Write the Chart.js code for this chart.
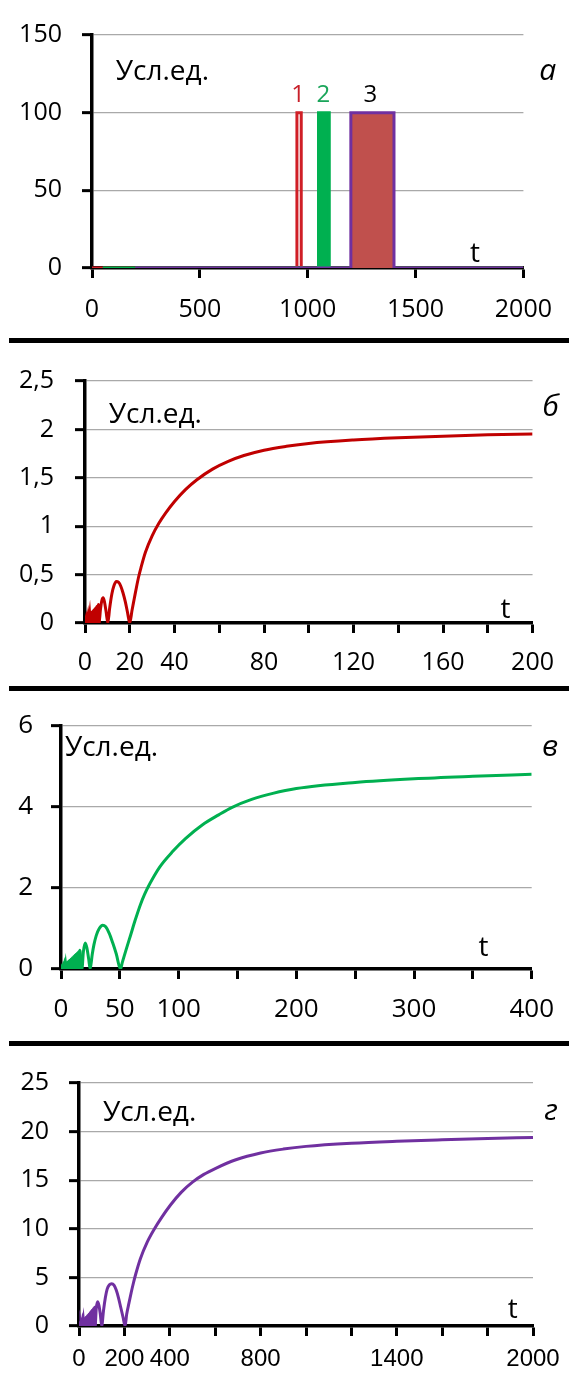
<!DOCTYPE html>
<html>
<head>
<meta charset="utf-8">
<script src="https://cdn.jsdelivr.net/npm/chart.js@4.4.1/dist/chart.umd.min.js"></script>
<style>
  html, body { margin: 0; padding: 0; background: #fff; }
  #page { position: relative; width: 569px; height: 1380px; overflow: hidden; background: #fff; }
  canvas { position: absolute; left: 0; }
  .bar { position: absolute; left: 9px; right: 0; height: 5px; background: #000; }
</style>
</head>
<body>
<div id="page">
  <canvas id="chartA" width="569" height="338" style="top:0px"></canvas>
  <div class="bar" style="top:338px"></div>
  <canvas id="chartB" width="569" height="340" style="top:345px"></canvas>
  <div class="bar" style="top:686px"></div>
  <canvas id="chartV" width="569" height="348" style="top:692px"></canvas>
  <div class="bar" style="top:1041px"></div>
  <canvas id="chartG" width="569" height="332" style="top:1048px"></canvas>
</div>
<script>
// panel а - input pulses
const pulse1T = [0, 950, 950, 970, 970, 2000];
const pulse1V = [0, 0, 100, 100, 0, 0];
const pulse2T = [50, 1050, 1050, 1100, 1100, 2000];
const pulse2V = [0, 0, 100, 100, 0, 0];
const pulse3T = [200, 1200, 1200, 1400, 1400, 2000];
const pulse3V = [0, 0, 100, 100, 0, 0];

// panel б - response to pulse 1 (first 17 points are the dense filled wedge)
const tB = [0, 0.5, 0.8, 1.3, 1.6, 2.1, 2.4, 2.9, 3.2, 3.7, 4.0, 4.5, 4.8, 5.3, 5.6, 6.0, 6.3,
  6.9, 7.5, 8.1, 8.7, 9.4, 10.2,
  11, 12, 13, 14, 15, 16, 17, 18, 19, 20,
  21, 22, 23, 24, 25, 27, 30, 33, 36, 40, 45, 50, 57, 64, 71, 80, 90, 100, 120, 140, 160, 180, 200];
const vB = [0, 0.05, 0, 0.07, 0, 0.09, 0, 0.11, 0, 0.13, 0, 0.15, 0, 0.17, 0, 0.19, 0,
  0.14, 0.23, 0.26, 0.22, 0.12, 0,
  0.15, 0.30, 0.39, 0.43, 0.42, 0.38, 0.31, 0.22, 0.11, 0,
  0.13, 0.25, 0.37, 0.48, 0.57, 0.73, 0.90, 1.03, 1.135, 1.255, 1.38, 1.48, 1.59, 1.67, 1.73, 1.785, 1.825, 1.855, 1.89, 1.913, 1.93, 1.944, 1.953];
const wedgeB = 17;

// panel в - response to pulse 2
const tV = [0, 0.6, 1.1, 1.7, 2.2, 2.8, 3.3, 3.9, 4.4, 5.0, 5.5, 6.1, 6.6, 7.2, 7.7, 8.3, 8.8, 9.4, 9.9,
  10.5, 11.0, 11.6, 12.1, 12.7, 13.2, 13.8, 14.3, 14.9, 15.4, 16.0, 16.6,
  17.8, 19, 20.6, 22, 23.5, 24.8,
  26.5, 28, 30, 32.5, 35.4, 38, 41, 44, 47, 50.5,
  52, 54, 56, 59, 63, 67.4, 71, 75.8, 84, 95, 106, 120, 134, 145, 162, 180, 200, 250, 300, 350, 400];
const vV = [0, 0.03, 0, 0.06, 0, 0.09, 0, 0.12, 0, 0.15, 0, 0.18, 0, 0.21, 0, 0.24, 0, 0.27, 0,
  0.30, 0, 0.33, 0, 0.36, 0, 0.39, 0, 0.42, 0, 0.46, 0,
  0, 0.42, 0.64, 0.52, 0.25, 0,
  0.35, 0.6, 0.83, 1.0, 1.08, 1.04, 0.88, 0.64, 0.37, 0,
  0.15, 0.35, 0.54, 0.82, 1.2, 1.58, 1.84, 2.12, 2.52, 2.9, 3.22, 3.55, 3.8, 3.98, 4.18, 4.33, 4.45, 4.6, 4.69, 4.75, 4.80];
const wedgeV = 31;

// panel г - response to pulse 3
const tG = [0, 3, 5.5, 8.5, 11, 14, 16.5, 19.5, 22, 25, 27.5, 30.5, 33, 36, 38.5, 41.5, 44, 47, 49.5, 52.5, 55, 58, 60.5, 63.5, 66, 69, 71,
  76, 82, 88, 94, 100,
  108, 116, 124, 134, 144, 154, 164, 174, 184, 194, 203,
  210, 220, 230, 240, 250, 270, 300, 330, 365, 403, 450, 500, 550, 600, 691, 800, 900, 1000, 1200, 1400, 1600, 1800, 2000];
const vG = [0, 0.1, 0, 0.27, 0, 0.42, 0, 0.57, 0, 0.72, 0, 0.87, 0, 1.02, 0, 1.17, 0, 1.32, 0, 1.47, 0, 1.62, 0, 1.77, 0, 1.92, 0,
  1.8, 2.5, 2.1, 1.2, 0,
  1.6, 2.9, 3.8, 4.25, 4.35, 4.2, 3.7, 2.9, 1.9, 0.9, 0,
  1.2, 2.35, 3.45, 4.45, 5.35, 6.9, 8.6, 9.9, 11.2, 12.45, 13.75, 14.8, 15.6, 16.2, 17.1, 17.8, 18.2, 18.48, 18.8, 19.0, 19.15, 19.28, 19.4];
const wedgeG = 27;

// labelled x ticks (the rest are bare tick marks)
const xLabelsA = [0, 500, 1000, 1500, 2000];
const xLabelsB = [0, 20, 40, 80, 120, 160, 200];
const xLabelsV = [0, 50, 100, 200, 300, 400];
const xLabelsG = [0, 200, 400, 800, 1400, 2000];

const UNIT = "Усл.ед.";
const RED = "#c00000";
const GREEN = "#00b050";
const PURPLE = "#7030a0";
const FONT = '"Open Sans", "Liberation Sans", sans-serif';

Chart.defaults.font.family = FONT;
Chart.defaults.color = "#000";

function toPoints(ts, vs) {
  return ts.map((t, i) => ({ x: t, y: vs[i] }));
}

function fmt(v) {
  return String(Math.round(v * 100) / 100).replace(".", ",");
}

// the curve itself plus a filled copy of its dense start
function curveSets(ts, vs, n, color) {
  return [
    { data: toPoints(ts, vs), borderColor: color, fill: false, cubicInterpolationMode: "monotone" },
    { data: toPoints(ts.slice(0, n), vs.slice(0, n)), borderColor: color, backgroundColor: color, fill: "origin" },
  ];
}

// draws free text at data coordinates
const notesPlugin = {
  id: "notes",
  afterDraw(chart, args, opts) {
    const ctx = chart.ctx;
    const xs = chart.scales.x;
    const ys = chart.scales.y;
    (opts.items || []).forEach(n => {
      ctx.save();
      ctx.font = n.font;
      ctx.fillStyle = n.color || "#000";
      ctx.textAlign = n.align || "left";
      ctx.textBaseline = "alphabetic";
      ctx.fillText(n.text, xs.getPixelForValue(n.x), ys.getPixelForValue(n.y));
      ctx.restore();
    });
  },
};

function makePanel(id, p) {
  return new Chart(document.getElementById(id), {
    type: "line",
    data: { datasets: p.datasets },
    options: {
      responsive: false,
      animation: false,
      events: [],
      layout: { padding: p.padding },
      elements: { point: { radius: 0 }, line: { tension: 0, borderWidth: 3 } },
      plugins: {
        legend: { display: false },
        tooltip: { enabled: false },
        notes: { items: p.notes },
      },
      scales: {
        x: {
          type: "linear",
          min: 0,
          max: p.xMax,
          afterFit: s => { s.height = p.xHeight; },
          border: { color: "#000", width: 3.5 },
          grid: { drawOnChartArea: false, drawTicks: true, tickLength: 10, tickColor: "#000", tickWidth: 3 },
          ticks: {
            stepSize: p.xStep,
            maxRotation: 0,
            autoSkip: false,
            padding: p.xPad,
            font: p.xFont || p.tickFont,
            callback: v => (p.xLabels.includes(v) ? String(v) : ""),
          },
        },
        y: {
          min: 0,
          max: p.yMax,
          afterFit: s => { s.width = p.yWidth; },
          border: { color: "#000", width: 3.5 },
          grid: {
            color: c => (c.tick && c.tick.value === 0 ? "rgba(0,0,0,0)" : "#a9a9a9"),
            lineWidth: 1.3,
            tickLength: 10,
            tickColor: "#000",
            tickWidth: 3,
          },
          ticks: { stepSize: p.yStep, padding: p.yPad, font: p.tickFont, callback: v => fmt(v) },
        },
      },
    },
    plugins: [notesPlugin],
  });
}

const textFont = '28px ' + FONT;
const letterFont = 'italic 30px ' + FONT;
const tFont = '28px ' + FONT;

makePanel("chartA", {
  xMax: 2000, xStep: 500, xLabels: xLabelsA, yMax: 150, yStep: 50,
  padding: { left: 0, right: 39, top: 20, bottom: 0 },
  yWidth: 92, xHeight: 70, xPad: 17, yPad: 20, tickFont: { size: 25 },
  datasets: [
    { data: toPoints(pulse3T, pulse3V), borderColor: PURPLE, backgroundColor: "#c0504d", fill: "origin" },
    { data: toPoints(pulse2T, pulse2V), borderColor: GREEN, backgroundColor: GREEN, fill: "origin" },
    { data: toPoints(pulse1T, pulse1V), borderColor: "#d01f26", fill: false },
  ],
  notes: [
    { text: UNIT, x: 110, y: 121, font: textFont },
    { text: "а", x: 2073, y: 121, font: letterFont },
    { text: "1", x: 955, y: 107, font: '24px ' + FONT, color: "#c8202a", align: "center" },
    { text: "2", x: 1073, y: 107, font: '24px ' + FONT, color: "#1aa55a", align: "center" },
    { text: "3", x: 1290, y: 107, font: '24px ' + FONT, align: "center" },
    { text: "t", x: 1776, y: 3.6, font: tFont, align: "center" },
  ],
});

makePanel("chartB", {
  xMax: 200, xStep: 20, xLabels: xLabelsB, yMax: 2.5, yStep: 0.5,
  padding: { left: 0, right: 31, top: 29, bottom: 0 },
  yWidth: 85, xHeight: 62, xPad: 15, yPad: 21, tickFont: { size: 25 },
  datasets: curveSets(tB, vB, wedgeB, RED),
  notes: [
    { text: UNIT, x: 10.6, y: 2.07, font: textFont },
    { text: "б", x: 204.4, y: 2.14, font: letterFont },
    { text: "t", x: 187.9, y: 0.05, font: tFont, align: "center" },
  ],
});

makePanel("chartV", {
  xMax: 400, xStep: 50, xLabels: xLabelsV, yMax: 6, yStep: 2,
  padding: { left: 0, right: 29, top: 28, bottom: 0 },
  yWidth: 61, xHeight: 71, xPad: 15, yPad: 18, tickFont: { size: 26 },
  datasets: curveSets(tV, vV, wedgeV, GREEN),
  notes: [
    { text: UNIT, x: 3.3, y: 5.24, font: textFont },
    { text: "в", x: 408.7, y: 5.24, font: letterFont },
    { text: "t", x: 359, y: 0.32, font: tFont, align: "center" },
  ],
});

makePanel("chartG", {
  xMax: 2000, xStep: 200, xLabels: xLabelsG, yMax: 25, yStep: 5,
  padding: { left: 0, right: 36, top: 29, bottom: 0 },
  yWidth: 79, xHeight: 54, xPad: 9, yPad: 20, tickFont: { size: 25 },
  xFont: { size: 24, family: '"Liberation Sans", sans-serif' },
  datasets: curveSets(tG, vG, wedgeG, PURPLE),
  notes: [
    { text: UNIT, x: 106, y: 21.1, font: textFont },
    { text: "г", x: 2050, y: 21.2, font: letterFont },
    { text: "t", x: 1911, y: 0.87, font: tFont, align: "center" },
  ],
});
</script>
</body>
</html>
